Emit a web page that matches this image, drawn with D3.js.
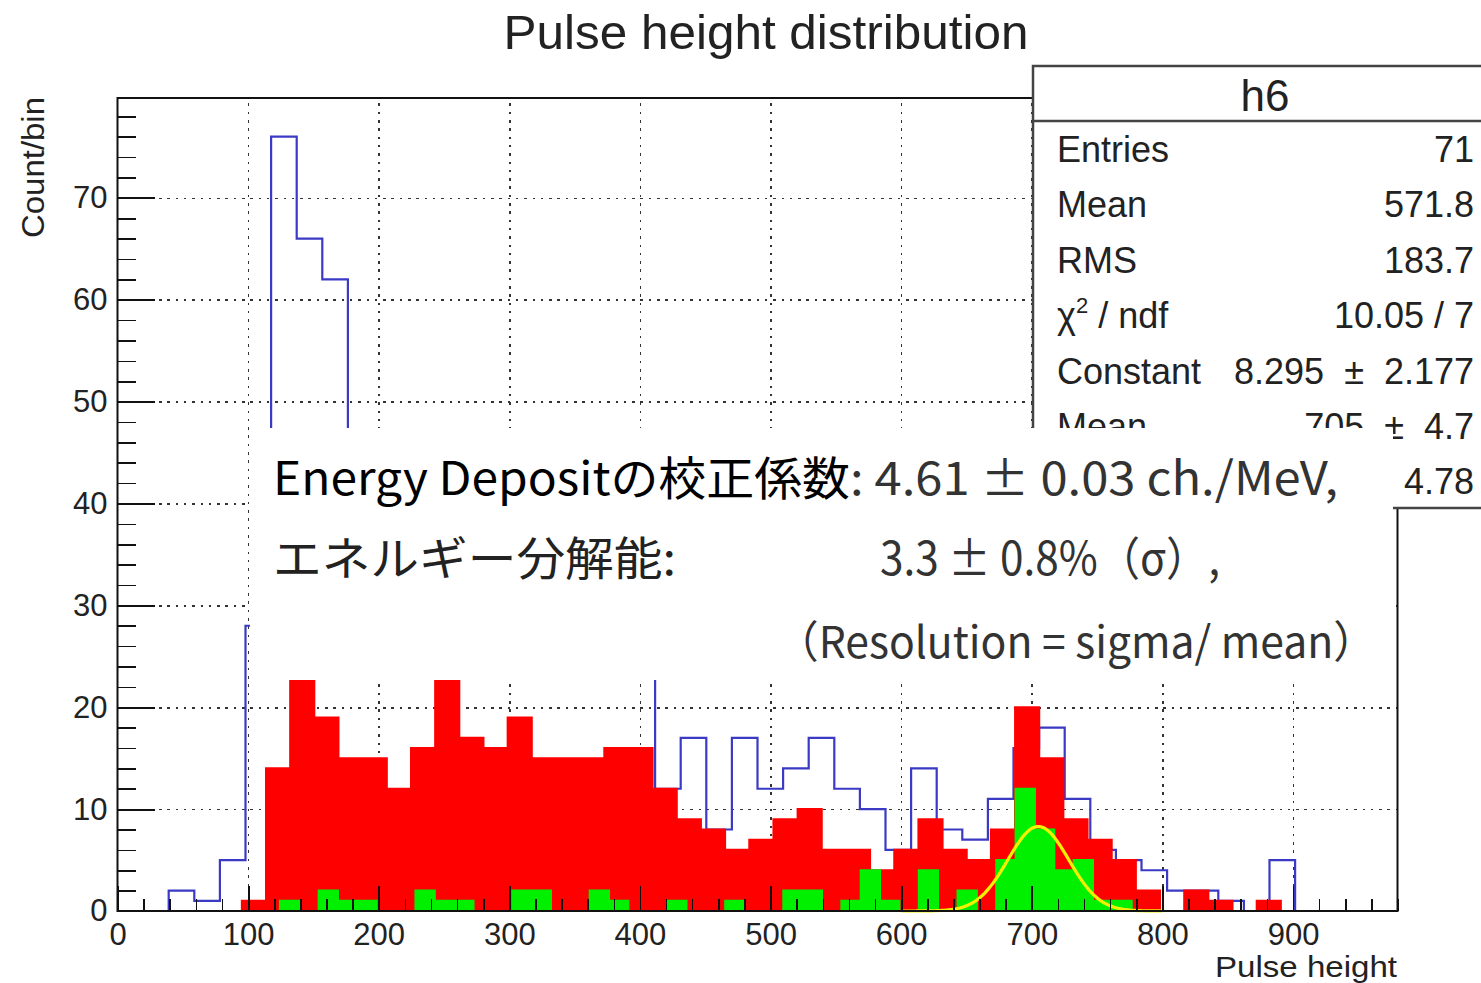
<!DOCTYPE html>
<html>
<head>
<meta charset="utf-8">
<script src="https://cdn.jsdelivr.net/npm/d3@7"></script>
<style>
  body { margin: 0; background: #fff; }
  svg { display: block; }
  .tick line { shape-rendering: crispEdges; }
</style>
</head>
<body>
<div id="container"></div>
<script>

//---------------------
// DATA
//---------------------

// h6, 50 bins over [0, 980]
const blueRange = [0, 980];
const blueCounts = [0, 0, 2, 1, 5, 28, 76, 66, 62, 45, 38, 40, 35, 36, 30, 33, 28, 30, 26, 29, 27,
                    12, 17, 8, 17, 12, 14, 17, 12, 10, 6, 14, 8, 7, 11, 16, 18, 11, 6, 5, 4, 2, 2, 1, 0, 5, 0, 0, 0, 0];

// red filled histogram, 50 bins
const redRange = [39.7, 964.7];
const redCounts = [0, 0, 0, 1, 14, 24, 19, 15, 15, 12, 16, 24, 17, 16, 19, 15, 15, 15, 16, 16,
                   12, 9, 8, 6, 7, 9, 10, 6, 6, 4, 6, 9, 6, 5, 8, 20, 15, 9, 7, 5, 2, 0, 2, 1, 0, 1, 0, 0, 0, 0];

// green filled histogram, 50 bins
const greenRange = [79.9, 821.0];
const greenCounts = [0, 0, 0, 1, 0, 2, 1, 1, 0, 0, 2, 1, 1, 0, 0, 2, 2, 0, 0, 2, 1, 0, 0, 1, 0,
                     0, 1, 0, 0, 2, 2, 0, 1, 4, 1, 0, 4, 0, 2, 0, 5, 12, 8, 4, 5, 1, 1, 0, 0, 0];

// gaus fit (yellow)
const fitConstant = 8.295;
const fitMean = 705;
const fitSigma = 23.3;
const fitRange = [600, 800];

const xTickValues = [0, 100, 200, 300, 400, 500, 600, 700, 800, 900];
const yTickValues = [0, 10, 20, 30, 40, 50, 60, 70];

const statLabels = ['Entries', 'Mean', 'RMS', 'χ2 / ndf', 'Constant', 'Mean', 'Sigma'];
const statValues = ['71', '571.8', '183.7', '10.05 / 7', '8.295 ± 2.177', '705 ± 4.7', '23.30 ± 4.78'];

//---------------------
// LAYOUT
//---------------------

const W = 1481, H = 983;
const frame = { left: 117.5, right: 1397.5, top: 98, bottom: 911 };
const helv = '"Liberation Sans", Arial, Helvetica, sans-serif';
const jp = '"Noto Sans CJK JP", "Noto Sans", sans-serif';

const x = d3.scaleLinear().domain([0, 980]).range([frame.left, frame.right]);
const y = d3.scaleLinear().domain([0, 79.8]).range([frame.bottom, frame.top]);

const svg = d3.select('#container')
              .append('svg')
              .attr('width', W)
              .attr('height', H);

svg.append('rect')
   .attr('width', W)
   .attr('height', H)
   .attr('fill', '#fff');

addGrid();
addHist(blueRange, blueCounts, { stroke: '#3a3ac4', fill: 'none', width: 2.2 });
addHist(redRange, redCounts, { stroke: '#ff0000', fill: '#ff0000', width: 2 });
addHist(greenRange, greenCounts, { stroke: '#00f000', fill: '#00f000', width: 2 });
addFit();
addAxes();
addStatBox();
addNoteBox();

//---------------------
// GRID + FRAME
//---------------------

function addGrid () {
  const h = frame.bottom - frame.top;
  const w = frame.right - frame.left;

  svg.append('g')
     .attr('transform', `translate(0, ${frame.bottom})`)
     .call(d3.axisBottom(x).tickValues(xTickValues.filter(v => v > 0)).tickSize(-h).tickFormat(''))
     .call(g => g.select('.domain').remove())
     .selectAll('line')
     .attr('stroke', '#333')
     .attr('stroke-width', 1.6)
     .attr('stroke-dasharray', '2.5,5.8');

  svg.append('g')
     .attr('transform', `translate(${frame.left}, 0)`)
     .call(d3.axisLeft(y).tickValues(yTickValues.filter(v => v > 0)).tickSize(-w).tickFormat(''))
     .call(g => g.select('.domain').remove())
     .selectAll('line')
     .attr('stroke', '#333')
     .attr('stroke-width', 1.6)
     .attr('stroke-dasharray', '2.5,5.8');
}

//---------------------
// HISTOGRAMS
//---------------------

function addHist (range, counts, style) {
  const step = (range[1] - range[0]) / counts.length;
  const pts = [[range[0], 0]];
  counts.forEach((c, i) => {
    pts.push([range[0] + i * step, c]);
    pts.push([range[0] + (i + 1) * step, c]);
  });
  pts.push([range[1], 0]);

  const line = d3.line()
                 .x(d => x(d[0]))
                 .y(d => y(d[1]));

  svg.append('path')
     .datum(pts)
     .attr('d', line)
     .attr('fill', style.fill)
     .attr('stroke', style.stroke)
     .attr('stroke-width', style.width)
     .attr('stroke-linejoin', 'miter');
}

function addFit () {
  const n = 200;
  const pts = d3.range(n + 1).map(i => {
    const v = fitRange[0] + (fitRange[1] - fitRange[0]) * i / n;
    return [v, fitConstant * Math.exp(-0.5 * Math.pow((v - fitMean) / fitSigma, 2))];
  });

  svg.append('path')
     .datum(pts)
     .attr('d', d3.line().x(d => x(d[0])).y(d => y(d[1])).curve(d3.curveMonotoneX))
     .attr('fill', 'none')
     .attr('stroke', '#f2f200')
     .attr('stroke-width', 3.2);
}

//---------------------
// AXES
//---------------------

function addAxes () {
  // minor ticks
  svg.append('g')
     .attr('transform', `translate(0, ${frame.bottom})`)
     .call(d3.axisBottom(x).tickValues(x.ticks(49)).tickSizeInner(-12).tickSizeOuter(0).tickFormat(''))
     .call(g => g.select('.domain').remove())
     .selectAll('line').attr('stroke', '#111').attr('stroke-width', 1.6);

  svg.append('g')
     .attr('transform', `translate(${frame.left}, 0)`)
     .call(d3.axisLeft(y).tickValues(y.ticks(40)).tickSizeInner(-18).tickSizeOuter(0).tickFormat(''))
     .call(g => g.select('.domain').remove())
     .selectAll('line').attr('stroke', '#111').attr('stroke-width', 1.6);

  // major ticks + labels
  const ax = svg.append('g')
                .attr('transform', `translate(0, ${frame.bottom})`)
                .call(d3.axisBottom(x).tickValues(xTickValues).tickSizeInner(-25).tickSizeOuter(0).tickPadding(12));
  ax.select('.domain').remove();
  ax.selectAll('line').attr('stroke', '#111').attr('stroke-width', 1.8);
  ax.selectAll('text')
    .attr('font-family', helv)
    .attr('font-size', 31)
    .attr('fill', '#222');

  const ay = svg.append('g')
                .attr('transform', `translate(${frame.left}, 0)`)
                .call(d3.axisLeft(y).tickValues(yTickValues).tickSizeInner(-37).tickSizeOuter(0).tickPadding(10));
  ay.select('.domain').remove();
  ay.selectAll('line').attr('stroke', '#111').attr('stroke-width', 1.8);
  ay.selectAll('text')
    .attr('font-family', helv)
    .attr('font-size', 31)
    .attr('fill', '#222');

  // frame
  svg.append('rect')
     .attr('x', frame.left)
     .attr('y', frame.top)
     .attr('width', frame.right - frame.left)
     .attr('height', frame.bottom - frame.top)
     .attr('fill', 'none')
     .attr('stroke', '#111')
     .attr('stroke-width', 2);

  // titles
  svg.append('text')
     .attr('x', 766)
     .attr('y', 49)
     .attr('text-anchor', 'middle')
     .attr('font-family', helv)
     .attr('font-size', 49)
     .attr('fill', '#222')
     .attr('textLength', 525)
     .attr('lengthAdjust', 'spacingAndGlyphs')
     .text('Pulse height distribution');

  svg.append('text')
     .attr('x', 1397)
     .attr('y', 977)
     .attr('text-anchor', 'end')
     .attr('font-family', helv)
     .attr('font-size', 30)
     .attr('fill', '#222')
     .attr('textLength', 182)
     .attr('lengthAdjust', 'spacingAndGlyphs')
     .text('Pulse height');

  svg.append('text')
     .attr('transform', 'translate(44, 97) rotate(-90)')
     .attr('text-anchor', 'end')
     .attr('font-family', helv)
     .attr('font-size', 31)
     .attr('fill', '#222')
     .attr('textLength', 141)
     .attr('lengthAdjust', 'spacingAndGlyphs')
     .text('Count/bin');
}

//---------------------
// STAT BOX
//---------------------

function addStatBox () {
  const box = { x: 1033, y: 66, w: 464, h: 442 };
  const g = svg.append('g');

  g.append('rect')
   .attr('x', box.x)
   .attr('y', box.y)
   .attr('width', box.w)
   .attr('height', box.h)
   .attr('fill', '#fff')
   .attr('stroke', '#444')
   .attr('stroke-width', 2.5);

  g.append('line')
   .attr('x1', box.x)
   .attr('x2', box.x + box.w)
   .attr('y1', 121)
   .attr('y2', 121)
   .attr('stroke', '#444')
   .attr('stroke-width', 2.5);

  g.append('text')
   .attr('x', box.x + box.w / 2)
   .attr('y', 111)
   .attr('text-anchor', 'middle')
   .attr('font-family', helv)
   .attr('font-size', 44)
   .attr('fill', '#222')
   .text('h6');

  statLabels.forEach((lab, i) => {
    const yy = 162 + i * 55.4;
    const t = g.append('text')
               .attr('x', 1057)
               .attr('y', yy)
               .attr('font-family', helv)
               .attr('font-size', 36)
               .attr('fill', '#222');
    if (lab.startsWith('χ2')) {
      t.append('tspan').text('χ');
      t.append('tspan').attr('font-size', 22).attr('dy', -15).text('2');
      t.append('tspan').attr('dy', 15).text(lab.slice(2));
    } else {
      t.text(lab);
    }

    g.append('text')
     .attr('x', 1474)
     .attr('y', yy)
     .attr('text-anchor', 'end')
     .attr('font-family', helv)
     .attr('font-size', 36)
     .attr('fill', '#222')
     .attr('xml:space', 'preserve')
     .text(statValues[i].replace(' ± ', '  ±  '));
  });
}

//---------------------
// NOTE BOX (pasted on top)
//---------------------

function addNoteBox () {
  svg.append('rect')
     .attr('x', 250)
     .attr('y', 428)
     .attr('width', 1393 - 250)
     .attr('height', 680 - 428)
     .attr('fill', '#fff');

  const lines = [
    { x: 273, y: 495, len: 577, size: 46, fill: '#000', text: 'Energy Depositの校正係数' },
    { x: 850, y: 495, len: 488, size: 46, fill: '#333', text: ': 4.61 ± 0.03 ch./MeV,' },
    { x: 273, y: 575, len: 403, size: 46, fill: '#222', text: 'エネルギー分解能:' },
    { x: 880, y: 575, len: 340, size: 46, fill: '#333', text: '3.3 ± 0.8%（σ）,' },
    { x: 776, y: 658, len: 600, size: 44, fill: '#333', text: '（Resolution = sigma/ mean）' }
  ];

  svg.selectAll('.note')
     .data(lines)
     .enter()
     .append('text')
     .attr('class', 'note')
     .attr('x', d => d.x)
     .attr('y', d => d.y)
     .attr('font-family', jp)
     .attr('font-size', d => d.size)
     .attr('fill', d => d.fill)
     .attr('textLength', d => d.len)
     .attr('lengthAdjust', 'spacingAndGlyphs')
     .text(d => d.text);
}

</script>
</body>
</html>
